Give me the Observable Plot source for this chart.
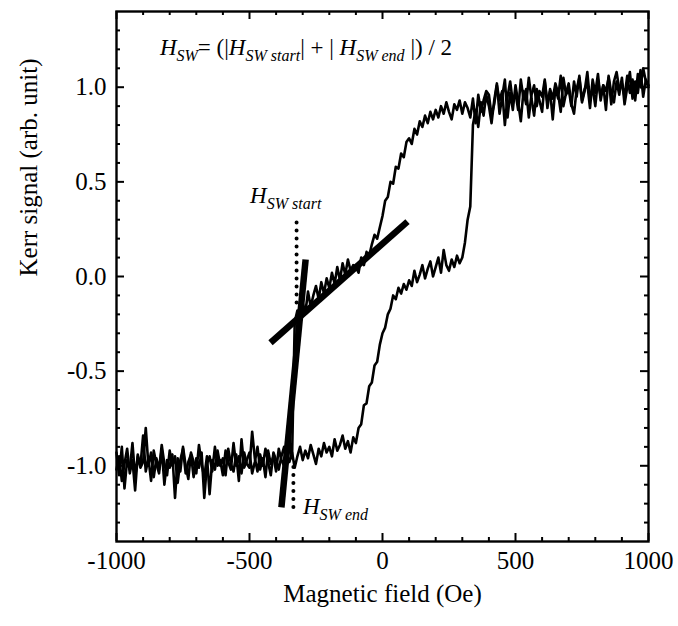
<!DOCTYPE html>
<html><head><meta charset="utf-8">
<script src="https://cdn.jsdelivr.net/npm/d3@7"></script>
<script src="https://cdn.jsdelivr.net/npm/@observablehq/plot@0.6"></script>
<style>body{margin:0;background:#fff}</style>
</head><body><div id="chart"></div>
<script>
// ---- data ----
const fieldStart = -1000;   // Oe, first sweep point
const fieldStep = 10;       // Oe, sweep step

// field increasing branch (-1000 -> 1000 Oe)
const ascendingKerr = [
 -0.93,-1.05,-0.90,-1.12,-0.97,-1.02,-0.88,-1.06,-0.95,-1.00,
 -0.84,-1.03,-0.96,-1.08,-0.92,-0.99,-1.04,-0.91,-1.10,-0.97,
 -1.01,-0.94,-1.17,-0.96,-1.03,-0.90,-1.00,-1.07,-0.93,-0.98,
 -1.04,-0.89,-0.99,-1.06,-0.95,-1.15,-0.97,-1.02,-0.92,-1.00,
 -0.96,-1.05,-0.91,-0.99,-1.03,-0.94,-1.08,-0.86,-1.01,-0.97,
 -0.93,-1.04,-0.98,-0.90,-1.02,-0.96,-1.06,-0.92,-0.99,-0.95,
 -1.03,-0.91,-0.97,-1.00,-0.94,-0.98,-0.93,-1.01,-0.95,-0.90,
 -0.97,-0.92,-0.96,-0.89,-0.94,-0.99,-0.91,-0.95,-0.88,-0.93,
 -0.90,-0.95,-0.86,-0.92,-0.89,-0.84,-0.91,-0.87,-0.93,-0.85,
 -0.88,-0.80,-0.78,-0.68,-0.67,-0.58,-0.56,-0.47,-0.45,-0.36,
 -0.30,-0.27,-0.20,-0.17,-0.10,-0.12,-0.06,-0.09,-0.04,-0.07,
 -0.02,-0.05, 0.03,-0.03, 0.01, 0.06,-0.01, 0.04, 0.08, 0.00,
  0.05, 0.10, 0.02, 0.14, 0.06, 0.03, 0.09, 0.05, 0.11, 0.07,
  0.10, 0.18, 0.30, 0.37, 0.80, 0.88, 0.79, 0.92, 0.85, 0.96,
  0.90, 0.81, 0.93, 1.02, 0.86, 0.95, 1.04, 0.84, 0.97, 0.88,
  1.01, 0.92, 0.82, 0.98, 0.91, 1.05, 0.94, 0.85, 0.99, 0.93,
  0.87, 1.03, 0.92, 0.98, 0.83, 1.00, 0.94, 1.06, 0.90, 0.97,
  1.02, 0.91, 0.86, 0.99, 1.05, 0.92, 0.98, 1.08, 0.93, 1.00,
  0.90, 1.04, 0.95, 1.01, 0.88, 1.06, 0.97, 0.92, 1.03, 0.96,
  1.05, 0.91, 1.00, 1.08, 0.94, 1.03, 0.97, 1.09, 0.95, 1.04,
  1.01
];

// field decreasing branch (listed by increasing field, -1000 -> 1000 Oe)
const descendingKerr = [
 -1.02,-0.95,-1.08,-0.99,-0.91,-1.04,-0.97,-1.13,-0.94,-1.01,
 -0.98,-0.80,-1.00,-0.93,-1.06,-0.96,-1.02,-0.89,-0.99,-1.05,
 -0.92,-1.00,-0.95,-1.09,-0.97,-0.91,-1.04,-0.98,-0.94,-1.06,
 -0.96,-1.01,-0.93,-1.17,-0.99,-0.95,-1.03,-0.90,-1.00,-0.97,
 -1.05,-0.92,-0.98,-1.02,-0.88,-1.00,-0.95,-1.04,-0.93,-0.99,
 -1.01,-0.82,-0.96,-1.03,-0.94,-1.00,-0.91,-0.98,-1.05,-0.93,
 -0.97,-1.02,-0.95,-0.90,-0.99,-0.87,-0.96,-0.24,-0.18,-0.22,
 -0.14,-0.19,-0.08,-0.16,-0.10,-0.05,-0.12,-0.03,-0.09,-0.01,
 -0.06, 0.02,-0.04, 0.05,-0.02, 0.07, 0.01, 0.09, 0.03, 0.06,
  0.05, 0.02, 0.10, 0.06, 0.13, 0.11, 0.17, 0.22, 0.20, 0.26,
  0.32, 0.40, 0.42, 0.50, 0.49, 0.58, 0.57, 0.65, 0.63, 0.71,
  0.73, 0.70, 0.78, 0.75, 0.82, 0.79, 0.85, 0.81, 0.87, 0.83,
  0.88, 0.84, 0.90, 0.86, 0.92, 0.87, 0.83, 0.91, 0.88, 0.93,
  0.86, 0.92, 0.89, 0.84, 0.94, 0.81, 0.96, 0.87, 0.93, 0.98,
  0.96, 0.85, 0.91, 1.01, 0.93, 0.98, 0.80, 0.95, 1.03, 0.92,
  0.97, 0.88, 1.04, 0.94, 0.99, 0.84, 0.96, 1.01, 0.90, 0.98,
  0.95, 1.04, 0.89, 0.99, 0.94, 1.02, 0.97, 0.87, 1.05, 0.96,
  0.99, 0.90, 1.03, 0.95, 1.06, 0.93, 0.99, 1.02, 0.89, 1.04,
  0.97, 1.07, 0.93, 1.01, 0.98, 1.05, 0.91, 1.03, 1.08, 0.99,
  1.02, 0.95, 1.06, 0.97, 1.04, 0.93, 1.07, 1.00, 1.10, 1.03,
  1.00
];

// annotation lines (data units)
const tangentField = [-421, 94];
const tangentKerr  = [-0.35, 0.29];
const steepField   = [-380, -289];
const steepKerr    = [-1.22, 0.09];
const dottedField  = [-323, -335];
const dottedKerrLo = [-0.14, -1.22];
const dottedKerrHi = [0.30, -0.97];

// ticks
const xMajorTicks = [-1000, -500, 0, 500, 1000];
const xMinorTicks = [-900,-800,-700,-600,-400,-300,-200,-100,100,200,300,400,600,700,800,900];
const yMajorTicks = [-1.0, -0.5, 0.0, 0.5, 1.0];
const yMinorTicks = [-1.3,-1.2,-1.1,-0.9,-0.8,-0.7,-0.6,-0.4,-0.3,-0.2,-0.1,0.1,0.2,0.3,0.4,0.6,0.7,0.8,0.9,1.1,1.2,1.3];

// texts
const xTitle = "Magnetic field (Oe)";
const yTitle = "Kerr signal (arb. unit)";
const richLabels = [
  {field: -835, kerr: 1.165, parts: [
    {t: "H", i: 1}, {t: "SW", i: 1, sub: 1}, {t: "= (|"}, {t: "H", i: 1}, {t: "SW start", i: 1, sub: 1},
    {t: "| + | "}, {t: "H", i: 1}, {t: "SW end", i: 1, sub: 1}, {t: " |) / 2"}]},
  {field: -496, kerr: 0.385, parts: [{t: "H", i: 1}, {t: "SW start", i: 1, sub: 1}]},
  {field: -297, kerr: -1.255, parts: [{t: "H", i: 1}, {t: "SW end", i: 1, sub: 1}]}
];

// ---- build tables ----
const ascending = ascendingKerr.map((k, i) => ({field: fieldStart + fieldStep * i, kerr: k}));
const descending = descendingKerr.map((k, i) => ({field: fieldStart + fieldStep * i, kerr: k}));
const tangent = tangentField.map((f, i) => ({field: f, kerr: tangentKerr[i]}));
const steep = steepField.map((f, i) => ({field: f, kerr: steepKerr[i]}));
const dotted = dottedField.map((f, i) => ({field: f, lo: dottedKerrLo[i], hi: dottedKerrHi[i]}));

const W = 678, H = 626, mL = 116, mR = 30, mT = 11, mB = 85;
const innerW = W - mL - mR, innerH = H - mT - mB;
const majorLen = 8, minorLen = 4;
const FONT = "'Liberation Serif', 'Times New Roman', serif";

const plot = Plot.plot({
  width: W, height: H,
  marginLeft: mL, marginRight: mR, marginTop: mT, marginBottom: mB,
  style: {fontFamily: FONT, fontSize: "25px", color: "#000", background: "#fff"},
  x: {domain: [-1000, 1000]},
  y: {domain: [-1.4, 1.4]},
  marks: [
    Plot.line(descending, {x: "field", y: "kerr", stroke: "#000", strokeWidth: 2.6}),
    Plot.line(ascending, {x: "field", y: "kerr", stroke: "#000", strokeWidth: 2.6}),
    Plot.line(tangent, {x: "field", y: "kerr", stroke: "#000", strokeWidth: 6.5, strokeLinecap: "butt"}),
    Plot.line(steep, {x: "field", y: "kerr", stroke: "#000", strokeWidth: 6.5, strokeLinecap: "butt"}),
    Plot.ruleX(dotted, {x: "field", y1: "lo", y2: "hi", stroke: "#000", strokeWidth: 4, strokeDasharray: "0 8", strokeLinecap: "round"}),
    Plot.frame({stroke: "#000", strokeWidth: 2.4}),
    Plot.tickX(xMajorTicks, {x: d => d, insetTop: innerH - majorLen, stroke: "#000", strokeWidth: 2}),
    Plot.tickX(xMajorTicks, {x: d => d, insetBottom: innerH - majorLen, stroke: "#000", strokeWidth: 2}),
    Plot.tickX(xMinorTicks, {x: d => d, insetTop: innerH - minorLen, stroke: "#000", strokeWidth: 2}),
    Plot.tickX(xMinorTicks, {x: d => d, insetBottom: innerH - minorLen, stroke: "#000", strokeWidth: 2}),
    Plot.tickY(yMajorTicks, {y: d => d, insetRight: innerW - majorLen, stroke: "#000", strokeWidth: 2}),
    Plot.tickY(yMajorTicks, {y: d => d, insetLeft: innerW - majorLen, stroke: "#000", strokeWidth: 2}),
    Plot.tickY(yMinorTicks, {y: d => d, insetRight: innerW - minorLen, stroke: "#000", strokeWidth: 2}),
    Plot.tickY(yMinorTicks, {y: d => d, insetLeft: innerW - minorLen, stroke: "#000", strokeWidth: 2}),
    Plot.axisX(xMajorTicks, {tickSize: 0, tickPadding: 10, tickFormat: d => String(d), label: null, fontSize: 25, fontFamily: FONT}),
    Plot.axisY(yMajorTicks, {tickSize: 0, tickPadding: 10, tickFormat: d => d.toFixed(1), label: null, fontSize: 25, fontFamily: FONT}),
    Plot.text([xTitle], {frameAnchor: "bottom", dy: 60, text: d => d, fontSize: 25, fill: "#000", fontFamily: FONT}),
    Plot.text([yTitle], {frameAnchor: "left", dx: -88, rotate: -90, text: d => d, fontSize: 25, fill: "#000", fontFamily: FONT})
  ]
});

document.getElementById("chart").appendChild(plot);

// rich (sub-scripted) labels positioned through Plot's scales
const sx = plot.scale("x"), sy = plot.scale("y");
const svg = d3.select(plot);
for (const lab of richLabels) {
  const t = svg.append("text")
    .attr("x", sx.apply(lab.field))
    .attr("y", sy.apply(lab.kerr))
    .attr("text-anchor", "start")
    .attr("font-family", FONT)
    .attr("font-size", 23)
    .attr("fill", "#000")
    .style("white-space", "pre");
  let inSub = false;
  for (const p of lab.parts) {
    const ts = t.append("tspan").text(p.t);
    if (p.i) ts.attr("font-style", "italic");
    if (p.sub) ts.attr("font-size", 16);
    if (p.sub && !inSub) { ts.attr("dy", 6); inSub = true; }
    else if (!p.sub && inSub) { ts.attr("dy", -6); inSub = false; }
  }
}
</script>
</body></html>
